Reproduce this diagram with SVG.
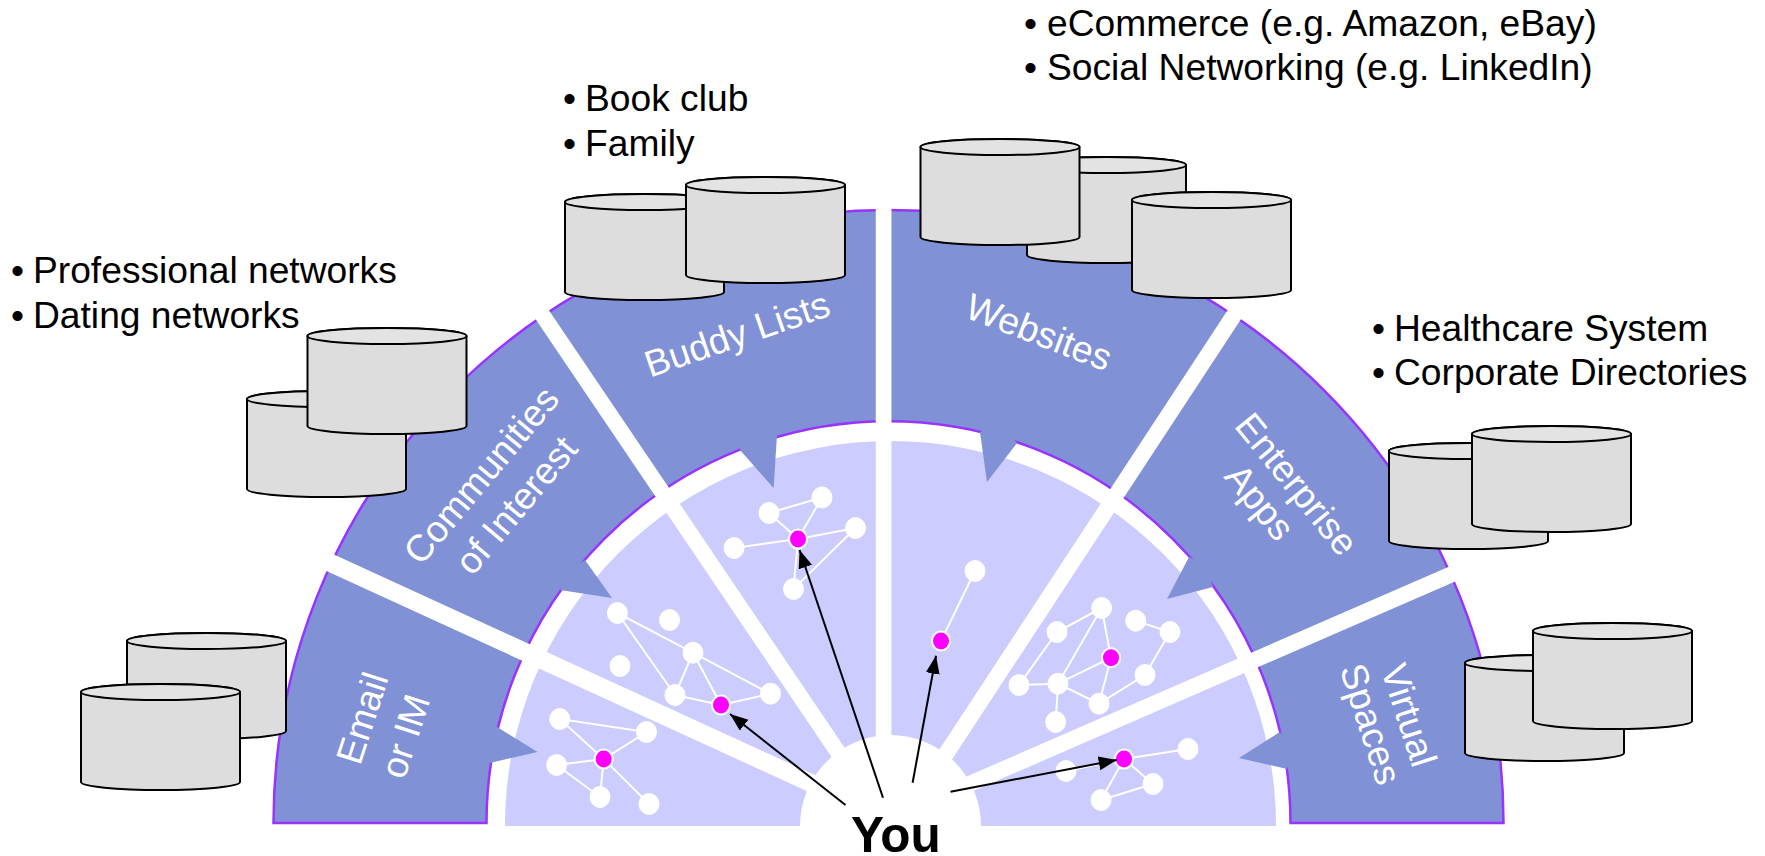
<svg xmlns="http://www.w3.org/2000/svg" width="1765" height="856" viewBox="0 0 1765 856">
<style>
text{font-family:"Liberation Sans",Arial,sans-serif}
.b{font-size:37.2px;fill:#000}
.l{font-size:37.33px;fill:#fff;text-anchor:middle}
.gap{stroke:#fff;fill:none}
.tail{fill:#8091d5;stroke:none}
.e{stroke:#fff;stroke-width:2;fill:none}
.n{fill:#fff;stroke:#fff;stroke-width:1}
.m{fill:#ff00ff;stroke:#fff;stroke-width:2}
.c{fill:#dddddd;stroke:#000;stroke-width:2}
.ct{fill:#e3e3e3;stroke:#000;stroke-width:2}
.a{stroke:#000;stroke-width:2;fill:none;marker-end:url(#ah)}
</style>
<defs>
<marker id="ah" markerUnits="userSpaceOnUse" markerWidth="20" markerHeight="16" refX="18" refY="7" orient="auto"><path d="M0,0L18,7L0,14Z" fill="#000"/></marker>
<g id="cyl"><path class="c" d="M0,8V98A79.5,8 0 0 0 159,98V8A79.5,8 0 0 0 0,8Z"/><ellipse class="ct" cx="79.5" cy="8" rx="79.5" ry="8"/></g>
</defs>
<g id="rings">
<path d="M273.5,823A615,613 0 0 1 1503.5,823H1290.5A402,402 0 0 0 486.5,823Z" fill="#8091d5" stroke="#9933ff" stroke-width="2.5"/>
<path d="M505,826A385.5,385 0 0 1 1276,826H981A90.5,91 0 0 0 800,826Z" fill="#ccccff"/>
</g>
<g id="tails">
<path class="tail" d="M497,727L537.5,752L489.6,763L480,745Z"/>
<path class="tail" d="M585,560L612,598L560,590L570,570Z"/>
<path class="tail" d="M740,450L773.6,488L777,435L770,425L745,432Z"/>
<path class="tail" d="M980,432L987,482L1017,443L1000,425Z"/>
<path class="tail" d="M1189,557L1167,599L1213,587L1205,565Z"/>
<path class="tail" d="M1280,732L1239,758L1287,769L1295,750Z"/>
</g>
<g id="gaps">
<path class="gap" stroke-width="18" d="M322,559L885,817"/>
<path class="gap" stroke-width="16" d="M535,304L850,770"/>
<path class="gap" stroke-width="15.7" d="M883.6,200V760"/>
<path class="gap" stroke-width="16" d="M1240,306L925,786"/>
<path class="gap" stroke-width="16" d="M1460,570.6L935,799"/>
</g>
<g id="labels">
<g transform="translate(362,718) rotate(-72)"><text class="l" y="13">Email</text></g>
<g transform="translate(405,736) rotate(-72)"><text class="l" y="13">or IM</text></g>
<g transform="translate(481,475) rotate(-50)"><text class="l" y="13">Communities</text></g>
<g transform="translate(516,505) rotate(-50)"><text class="l" y="13">of Interest</text></g>
<g transform="translate(737,334) rotate(-19)"><text class="l" y="13">Buddy Lists</text></g>
<g transform="translate(1039,332) rotate(21)"><text class="l" y="13">Websites</text></g>
<g transform="translate(1297,484) rotate(51)"><text class="l" y="13">Enterprise</text></g>
<g transform="translate(1260,502) rotate(51)"><text class="l" y="13">Apps</text></g>
<g transform="translate(1409,715) rotate(72)"><text class="l" y="13">Virtual</text></g>
<g transform="translate(1371,724) rotate(72)"><text class="l" y="13">Spaces</text></g>
</g>
<g id="connectors">
<g id="net-email">
<path class="e" d="M559.7,719L646.5,732L603.7,759L559.7,719M603.7,759L556.6,765L600,797L603.7,759L649,804"/>
</g>
<g id="net-communities">
<path class="e" d="M617.4,613L693,652.7L675,695L617.4,613M693,652.7L721,705L675,695M693,652.7L770.5,693.7L721,705"/>
</g>
<g id="net-buddy">
<path class="e" d="M769,513L822,497.5L798,539L769,513M798,539L734,548M798,539L855.5,528L793.5,589L798,539"/>
</g>
<g id="net-websites"><path class="e" d="M941,641L975,571"/></g>
<g id="net-enterprise">
<path class="e" d="M1101.6,608L1057,632L1019,685L1058,683.7L1101.6,608L1111,657.7L1058,683.7L1099,703.7L1111,657.7M1058,683.7L1055.7,722M1099,703.7L1145,675L1170,632L1135.7,620.7"/>
</g>
<g id="net-virtual">
<path class="e" d="M1188,749L1124,759L1066,771M1124,759L1153,784L1101,800L1124,759"/>
</g>
</g>
<g id="graph-nodes">
<g id="email-nodes"><ellipse class="n" cx="559.7" cy="719" rx="10" ry="10.5"/><ellipse class="n" cx="646.5" cy="732" rx="10" ry="10.5"/><ellipse class="n" cx="556.6" cy="765" rx="10" ry="10.5"/><ellipse class="n" cx="600" cy="797" rx="10" ry="10.5"/><ellipse class="n" cx="649" cy="804" rx="10" ry="10.5"/><ellipse class="m" cx="603.7" cy="759" rx="9" ry="9.5"/></g>
<g id="communities-nodes"><ellipse class="n" cx="617.4" cy="613" rx="10" ry="10.5"/><ellipse class="n" cx="669.5" cy="620" rx="10" ry="10.5"/><ellipse class="n" cx="620" cy="666" rx="10" ry="10.5"/><ellipse class="n" cx="693" cy="652.7" rx="10" ry="10.5"/><ellipse class="n" cx="675" cy="695" rx="10" ry="10.5"/><ellipse class="n" cx="770.5" cy="693.7" rx="10" ry="10.5"/><ellipse class="m" cx="721" cy="705" rx="9" ry="9.5"/></g>
<g id="buddy-nodes"><ellipse class="n" cx="769" cy="513" rx="10" ry="10.5"/><ellipse class="n" cx="822" cy="497.5" rx="10" ry="10.5"/><ellipse class="n" cx="855.5" cy="528" rx="10" ry="10.5"/><ellipse class="n" cx="734" cy="548" rx="10" ry="10.5"/><ellipse class="n" cx="793.5" cy="589" rx="10" ry="10.5"/><ellipse class="m" cx="798" cy="539" rx="9" ry="9.5"/></g>
<g id="websites-nodes"><ellipse class="n" cx="975" cy="571" rx="10" ry="10.5"/><ellipse class="m" cx="941" cy="641" rx="9" ry="9.5"/></g>
<g id="enterprise-nodes"><ellipse class="n" cx="1101.6" cy="608" rx="10" ry="10.5"/><ellipse class="n" cx="1057" cy="632" rx="10" ry="10.5"/><ellipse class="n" cx="1135.7" cy="620.7" rx="10" ry="10.5"/><ellipse class="n" cx="1170" cy="632" rx="10" ry="10.5"/><ellipse class="n" cx="1145" cy="675" rx="10" ry="10.5"/><ellipse class="n" cx="1058" cy="683.7" rx="10" ry="10.5"/><ellipse class="n" cx="1019" cy="685" rx="10" ry="10.5"/><ellipse class="n" cx="1099" cy="703.7" rx="10" ry="10.5"/><ellipse class="n" cx="1055.7" cy="722" rx="10" ry="10.5"/><ellipse class="m" cx="1111" cy="657.7" rx="9" ry="9.5"/></g>
<g id="virtual-nodes"><ellipse class="n" cx="1188" cy="749" rx="10" ry="10.5"/><ellipse class="n" cx="1066" cy="771" rx="10" ry="10.5"/><ellipse class="n" cx="1153" cy="784" rx="10" ry="10.5"/><ellipse class="n" cx="1101" cy="800" rx="10" ry="10.5"/><ellipse class="m" cx="1124" cy="759" rx="9" ry="9.5"/></g>
</g>
<g id="arrows">
<path class="a" d="M845.5,805L730,714"/>
<path class="a" d="M883,797.7L799.6,550"/>
<path class="a" d="M912.6,782.7L936,655.7"/>
<path class="a" d="M950.5,791.7L1116.7,760"/>
</g>
<g id="you"><text x="851" y="852" font-size="49.5" font-weight="bold" fill="#000">You</text></g>
<g id="db-email"><use href="#cyl" transform="translate(127,633)"/><use href="#cyl" transform="translate(81,684)"/></g>
<g id="db-communities"><use href="#cyl" transform="translate(247,391)"/><use href="#cyl" transform="translate(307.5,328)"/></g>
<g id="db-buddy"><use href="#cyl" transform="translate(565,194)"/><use href="#cyl" transform="translate(686,177)"/></g>
<g id="db-websites"><use href="#cyl" transform="translate(1027,157)"/><use href="#cyl" transform="translate(920.5,139)"/><use href="#cyl" transform="translate(1132,192)"/></g>
<g id="db-enterprise"><use href="#cyl" transform="translate(1389,443)"/><use href="#cyl" transform="translate(1472,426)"/></g>
<g id="db-virtual"><use href="#cyl" transform="translate(1465,655)"/><use href="#cyl" transform="translate(1533,623)"/></g>
<g id="notes">
<text class="b" y="36"><tspan x="1024">•</tspan><tspan x="1047">eCommerce (e.g. Amazon, eBay)</tspan></text>
<text class="b" y="80"><tspan x="1024">•</tspan><tspan x="1047">Social Networking (e.g. LinkedIn)</tspan></text>
<text class="b" y="111"><tspan x="563">•</tspan><tspan x="585">Book club</tspan></text>
<text class="b" y="156"><tspan x="563">•</tspan><tspan x="585">Family</tspan></text>
<text class="b" y="283"><tspan x="11">•</tspan><tspan x="33">Professional networks</tspan></text>
<text class="b" y="328"><tspan x="11">•</tspan><tspan x="33">Dating networks</tspan></text>
<text class="b" y="341"><tspan x="1372">•</tspan><tspan x="1394">Healthcare System</tspan></text>
<text class="b" y="385"><tspan x="1372">•</tspan><tspan x="1394">Corporate Directories</tspan></text>
</g>
</svg>
